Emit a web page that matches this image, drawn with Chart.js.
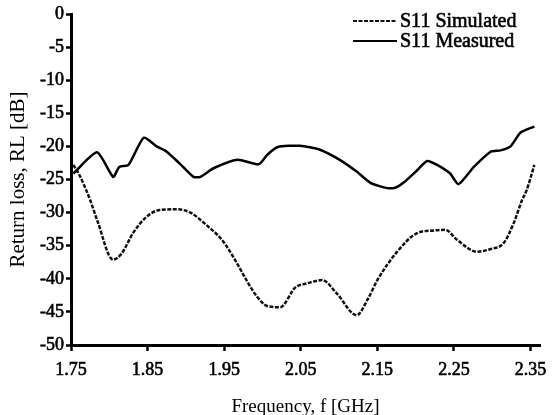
<!DOCTYPE html>
<html>
<head>
<meta charset="utf-8">
<script src="https://cdn.jsdelivr.net/npm/chart.js@4/dist/chart.umd.min.js"></script>
<style>
  body { margin: 0; background: #fff; }
  canvas { display: block; }
</style>
</head>
<body>
<canvas id="rlChart" width="556" height="415"></canvas>
<script>
// values
const simFreq = [1.753, 1.760, 1.775, 1.784, 1.805, 1.816, 1.831, 1.849, 1.866, 1.888, 1.906, 1.927,
  1.947, 1.967, 1.980, 1.993, 2.006, 2.023, 2.043, 2.058, 2.078, 2.097, 2.123, 2.137, 2.150, 2.176,
  2.202, 2.224, 2.239, 2.254, 2.280, 2.298, 2.315, 2.328, 2.339, 2.345, 2.355];
const simRL = [-22.8, -24.1, -28.1, -31.1, -37.1, -36.2, -33.1, -30.6, -29.6, -29.5, -30.0, -31.9,
  -34.1, -37.7, -40.4, -42.7, -44.1, -44.3, -41.3, -40.7, -40.2, -42.2, -45.5, -43.2, -40.2, -35.9,
  -33.1, -32.7, -32.6, -34.1, -35.9, -35.5, -34.6, -31.6, -28.1, -26.6, -22.8];

const measFreq = [1.753, 1.784, 1.805, 1.813, 1.825, 1.845, 1.862, 1.875, 1.892, 1.910, 1.919, 1.936,
  1.967, 1.995, 2.006, 2.020, 2.049, 2.075, 2.102, 2.123, 2.141, 2.163, 2.174, 2.184, 2.202, 2.215,
  2.228, 2.245, 2.256, 2.276, 2.298, 2.311, 2.324, 2.337, 2.355];
const measRL = [-24.1, -20.9, -24.6, -23.1, -22.8, -18.7, -20.0, -20.8, -22.6, -24.6, -24.6, -23.3,
  -22.0, -22.7, -21.3, -20.1, -19.9, -20.5, -22.1, -23.8, -25.5, -26.3, -26.2, -25.5, -23.6, -22.2,
  -22.8, -24.1, -25.7, -23.1, -20.8, -20.6, -20.0, -17.9, -17.0];

const xTicks = [1.75, 1.85, 1.95, 2.05, 2.15, 2.25, 2.35];
const seriesNames = ['S11 Simulated', 'S11 Measured'];

const serif = '"Liberation Serif", "Times New Roman", serif';

const toPoints = (xs, ys) => xs.map((x, i) => ({ x: x, y: ys[i] }));

// legend drawn inside the plot, top right
const insetLegend = {
  id: 'insetLegend',
  afterDraw(chart) {
    const ctx = chart.ctx;
    const area = chart.chartArea;
    const x0 = area.right - 187;
    ctx.save();
    ctx.font = '20px ' + serif;
    ctx.textBaseline = 'middle';
    ctx.fillStyle = '#000';
    chart.data.datasets.forEach((ds, i) => {
      const y = area.top + 7 + i * 20;
      ctx.beginPath();
      ctx.setLineDash(ds.borderDash || []);
      ctx.lineWidth = 2;
      ctx.strokeStyle = ds.borderColor;
      ctx.moveTo(x0, y);
      ctx.lineTo(x0 + 44, y);
      ctx.stroke();
      ctx.setLineDash([]);
      ctx.lineWidth = 0.6;
      ctx.strokeStyle = '#000';
      ctx.strokeText(ds.label, x0 + 47, y + 1);
      ctx.fillText(ds.label, x0 + 47, y + 1);
    });
    ctx.restore();
  }
};

new Chart(document.getElementById('rlChart'), {
  type: 'line',
  data: {
    datasets: [
      {
        label: seriesNames[0],
        data: toPoints(simFreq, simRL),
        borderColor: '#111',
        borderWidth: 2.5,
        borderDash: [4, 1.5],
        cubicInterpolationMode: 'monotone',
        pointRadius: 0,
        fill: false
      },
      {
        label: seriesNames[1],
        data: toPoints(measFreq, measRL),
        borderColor: '#000',
        borderWidth: 2.5,
        tension: 0.2,
        pointRadius: 0,
        fill: false
      }
    ]
  },
  options: {
    responsive: false,
    animation: false,
    layout: { padding: { top: 14, right: 16, left: 0, bottom: 0 } },
    plugins: {
      legend: { display: false },
      tooltip: { enabled: false }
    },
    scales: {
      x: {
        type: 'linear',
        min: 1.75,
        max: 2.3624,
        afterBuildTicks: (scale) => { scale.ticks = xTicks.map(v => ({ value: v })); },
        afterFit: (scale) => { scale.height = 70; },
        ticks: {
          color: '#000',
          font: { family: serif, size: 18 },
          textStrokeColor: '#000',
          textStrokeWidth: 0.6,
          padding: 8,
          maxRotation: 0,
          callback: (v) => Number(v).toFixed(2)
        },
        grid: { drawOnChartArea: false, drawTicks: true, tickLength: 6, tickWidth: 2.5, tickColor: '#000' },
        border: { display: true, color: '#000', width: 3 },
        title: {
          display: true,
          text: 'Frequency, f [GHz]',
          color: '#000',
          font: { family: serif, size: 19, lineHeight: 1 },
          padding: { top: 0, bottom: -2 }
        }
      },
      y: {
        min: -50,
        max: 0,
        afterFit: (scale) => { scale.width = 71; },
        ticks: {
          stepSize: 5,
          color: '#000',
          font: { family: serif, size: 18 },
          textStrokeColor: '#000',
          textStrokeWidth: 0.6,
          padding: 2
        },
        grid: { drawOnChartArea: false, drawTicks: true, tickLength: 5, tickWidth: 2.5, tickColor: '#000' },
        border: { display: true, color: '#000', width: 3 },
        title: {
          display: true,
          text: 'Return loss, RL [dB]',
          color: '#000',
          font: { family: serif, size: 21 },
          padding: { top: 6, bottom: 4 }
        }
      }
    }
  },
  plugins: [insetLegend]
});
</script>
</body>
</html>
